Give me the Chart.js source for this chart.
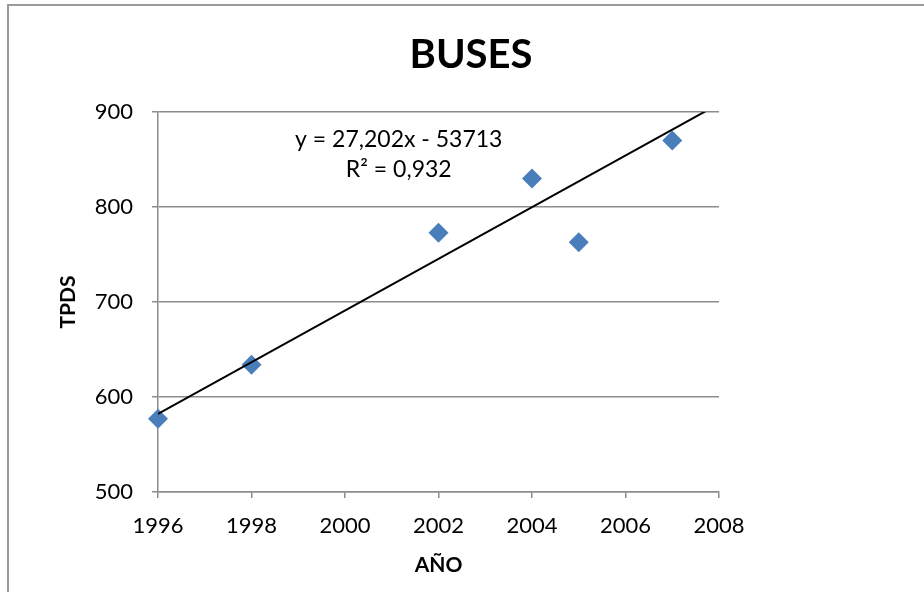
<!DOCTYPE html>
<html>
<head>
<meta charset="utf-8">
<script src="https://cdn.jsdelivr.net/npm/chart.js@4/dist/chart.umd.min.js"></script>
<style>
  html, body { margin: 0; padding: 0; background: #fff; overflow: hidden; }
  #wrap { position: relative; width: 924px; height: 592px; }
  #frame { position: absolute; left: 7px; top: 4px; width: 1000px; height: 1000px; border: 2px solid #9a9a9a; box-sizing: border-box; }
  canvas { position: absolute; left: 0; top: 0; }
</style>
</head>
<body>
<div id="wrap">
  <div id="frame"></div>
  <canvas id="chart" width="924" height="592"></canvas>
</div>
<script>
const years = [1996, 1998, 2002, 2004, 2005, 2007];
const tpds = [577, 634, 773, 830, 763, 870];

// linear trendline as shown on the chart
const slope = 27.202;
const intercept = -53713;
const rSquared = 0.932;
const trendX = [1996, 2008];

const xTicks = { min: 1996, max: 2008, step: 2 };
const yTicks = { min: 500, max: 900, step: 100 };

const fontName = "Lato, 'Open Sans', sans-serif";
const gridGray = "#8c8c8c";

const fmt = (v, d) => v.toFixed(d).replace(".", ",");
const eqLines = [
  "y = " + fmt(slope, 3) + "x - " + Math.abs(intercept),
  "R\u00B2 = " + fmt(rSquared, 3)
];

// draws the trendline equation inside the plot
const equationLabel = {
  id: "equationLabel",
  afterDatasetsDraw(chart) {
    const { ctx, scales } = chart;
    const x = scales.x.getPixelForValue(2001.15);
    ctx.save();
    ctx.font = "23px " + fontName;
    ctx.fillStyle = "#000";
    ctx.textAlign = "center";
    ctx.textBaseline = "middle";
    ctx.fillText(eqLines[0], x, scales.y.getPixelForValue(870.5));
    ctx.fillText(eqLines[1], x, scales.y.getPixelForValue(839));
    ctx.restore();
  }
};

new Chart(document.getElementById("chart"), {
  type: "scatter",
  data: {
    datasets: [
      {
        label: "TPDS",
        data: years.map((y, i) => ({ x: y, y: tpds[i] })),
        pointStyle: "rectRot",
        pointRadius: 10,
        pointHoverRadius: 10,
        backgroundColor: "#4a7ebb",
        borderColor: "#4a7ebb",
        borderWidth: 0,
        clip: false,
        order: 2
      },
      {
        label: "Lineal",
        type: "line",
        data: trendX.map(x => ({ x: x, y: slope * x + intercept })),
        borderColor: "#000",
        borderWidth: 2,
        pointRadius: 0,
        fill: false,
        order: 1
      }
    ]
  },
  plugins: [equationLabel],
  options: {
    responsive: false,
    animation: false,
    events: [],
    layout: { padding: { left: 18, right: 0, top: 0, bottom: 0 } },
    plugins: {
      legend: { display: false },
      tooltip: { enabled: false },
      title: {
        display: true,
        text: "BUSES",
        color: "#000",
        font: { family: fontName, size: 40, weight: "bold", lineHeight: 1.2 },
        padding: { top: 31, bottom: 33 }
      }
    },
    scales: {
      x: {
        type: "linear",
        min: xTicks.min,
        max: xTicks.max,
        afterFit: s => { s.height = 100; },
        ticks: {
          stepSize: xTicks.step,
          color: "#000",
          padding: 15,
          font: { family: fontName, size: 22 },
          callback: v => String(v)
        },
        grid: { drawOnChartArea: false, drawTicks: true, tickLength: 6, color: gridGray, lineWidth: 1.5 },
        border: { color: gridGray, width: 1.5 },
        title: {
          display: true,
          text: "AÑO",
          color: "#000",
          font: { family: fontName, size: 21, weight: "bold", lineHeight: 1.2 },
          padding: { top: 0, bottom: 14.4 }
        }
      },
      y: {
        min: yTicks.min,
        max: yTicks.max,
        afterFit: s => { s.width = 140; },
        ticks: {
          stepSize: yTicks.step,
          color: "#000",
          padding: 19,
          font: { family: fontName, size: 22 }
        },
        grid: { drawTicks: true, tickLength: 6, color: gridGray, lineWidth: 1.5 },
        border: { color: gridGray, width: 1.5 },
        title: {
          display: true,
          text: "TPDS",
          color: "#000",
          font: { family: fontName, size: 21, weight: "bold", lineHeight: 1.2 },
          padding: { top: 37.4, bottom: 0 }
        }
      },
      spacer: {
        position: "right",
        afterFit: s => { s.width = 205; },
        ticks: { display: false },
        grid: { display: false },
        border: { display: false }
      }
    }
  }
});
</script>
</body>
</html>
